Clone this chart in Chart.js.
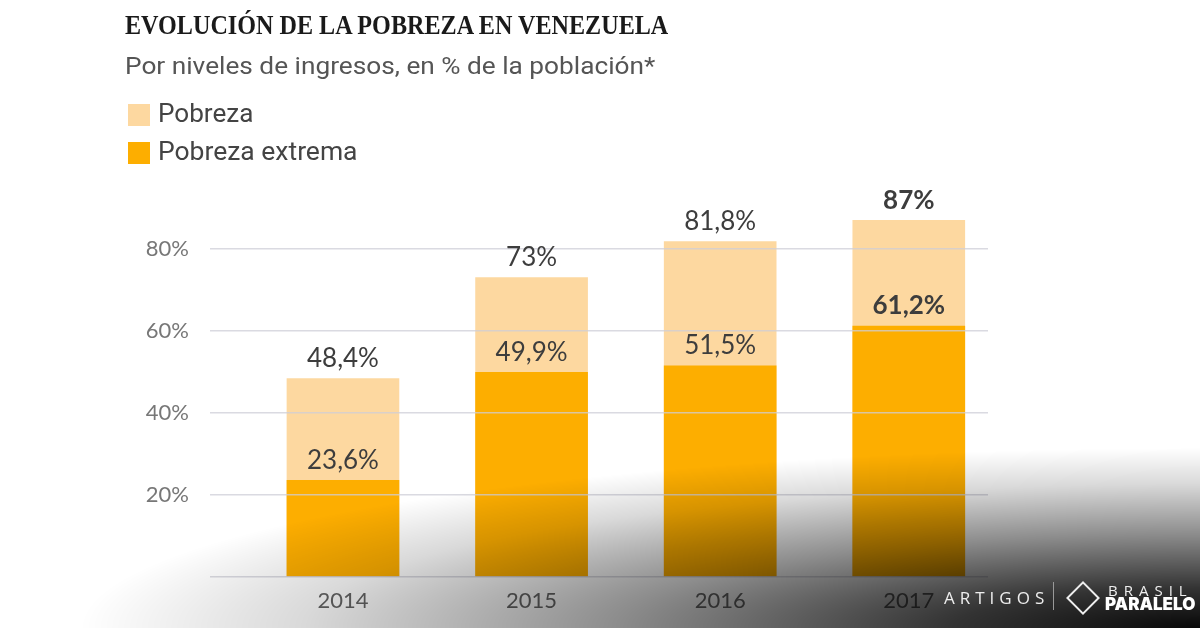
<!DOCTYPE html>
<html>
<head>
<meta charset="utf-8">
<script src="https://cdn.jsdelivr.net/npm/chart.js@4.4.1/dist/chart.umd.min.js"></script>
<style>
  body { margin: 0; background: #fff; }
  #wrap { position: relative; width: 1200px; height: 628px; overflow: hidden; background: #fff; }
  #chart { position: absolute; left: 0; top: 0; }
  .txt { position: absolute; white-space: nowrap; transform-origin: left top; }
  #title { left: 125px; top: 10px; font: bold 27px "Liberation Serif", serif; color: #1a1a1a; }
  #subtitle { left: 125px; top: 52px; font: 24px Roboto, sans-serif; color: #555; }
  .leg { position: absolute; left: 128px; width: 22px; height: 22px; }
  .legtxt { position: absolute; left: 158px; font: 25px Roboto, sans-serif; color: #444; }
  #shade { position: absolute; left: 0; top: 0; width: 1200px; height: 628px; pointer-events: none;
    background: radial-gradient(1120px 180px at 100% 100%, rgba(0,0,0,0.97) 0%, rgba(0,0,0,0.8) 22%, rgba(0,0,0,0.45) 52%, rgba(0,0,0,0.15) 80%, rgba(0,0,0,0) 100%); }
  #artigos { position: absolute; left: 944px; top: 586px; font: 17px "Open Sans", sans-serif; letter-spacing: 5px; color: #eee; }
  #sep { position: absolute; left: 1053px; top: 582px; width: 1px; height: 28px; background: #999; }
  #logo { position: absolute; left: 1071px; top: 586px; width: 20px; height: 20px; border: 2px solid #eee; transform: rotate(45deg); }
  #brasil { position: absolute; left: 1108px; top: 580px; font: 15px "Open Sans", sans-serif; letter-spacing: 6px; color: #eee; }
  #paralelo { position: absolute; left: 1105px; top: 594px; font: 900 17px Inter, sans-serif; color: #fff; }
</style>
</head>
<body>
<div id="wrap">
  <canvas id="chart" width="1200" height="628"></canvas>
  <div id="title" class="txt">EVOLUCIÓN DE LA POBREZA EN VENEZUELA</div>
  <div id="subtitle" class="txt">Por niveles de ingresos, en % de la población*</div>
  <div class="leg" style="top:104px;background:#fdd8a0"></div>
  <div id="leg1" class="legtxt txt" style="top:99px">Pobreza</div>
  <div class="leg" style="top:142px;background:#fdae00"></div>
  <div id="leg2" class="legtxt txt" style="top:137px">Pobreza extrema</div>
  <div id="shade"></div>
  <div id="artigos">ARTIGOS</div>
  <div id="sep"></div>
  <div id="logo"></div>
  <div id="brasil">BRASIL</div>
  <div id="paralelo">PARALELO</div>
</div>
<script>
"use strict";

// values
const years = ["2014", "2015", "2016", "2017"];
const pobreza = [48.4, 73, 81.8, 87];
const pobrezaExtrema = [23.6, 49.9, 51.5, 61.2];
const yTicks = [0, 20, 40, 60, 80];

// squeeze the header texts to the reference widths
function fitWidth(id, w) {
  const el = document.getElementById(id);
  el.style.transform = "scaleX(" + (w / el.offsetWidth) + ")";
}
fitWidth("title", 543);
fitWidth("subtitle", 530);
fitWidth("leg1", 95);
fitWidth("leg2", 199);

function fmt(v) {
  return String(v).replace(".", ",") + "%";
}

// value labels above each bar
const barLabels = {
  id: "barLabels",
  afterDraw(chart) {
    const ctx = chart.ctx;
    ctx.save();
    ctx.textAlign = "center";
    ctx.textBaseline = "middle";
    ctx.fillStyle = "#3d3d3d";
    chart.data.datasets.forEach((ds, di) => {
      chart.getDatasetMeta(di).data.forEach((bar, i) => {
        const last = i === years.length - 1;
        ctx.font = (last ? "bold " : "") + "26px Lato, sans-serif";
        ctx.fillText(fmt(ds.data[i].y), bar.x, bar.y - 20);
      });
    });
    ctx.restore();
  }
};

const ctx = document.getElementById("chart").getContext("2d");
new Chart(ctx, {
  type: "bar",
  data: {
    datasets: [
      {
        label: "Pobreza",
        data: pobreza.map((v, i) => ({ x: i, y: v })),
        backgroundColor: "#fdd8a0",
        order: 2,
      },
      {
        label: "Pobreza extrema",
        data: pobrezaExtrema.map((v, i) => ({ x: i, y: v })),
        backgroundColor: "#fdae00",
        order: 1,
      },
    ],
  },
  options: {
    responsive: false,
    animation: false,
    grouped: false,
    barThickness: 112,
    layout: { padding: { left: 120, right: 212, top: 208, bottom: 11 } },
    plugins: { legend: { display: false }, tooltip: { enabled: false } },
    scales: {
      x: {
        type: "linear",
        offset: false,
        min: -0.705,
        max: 3.42,
        grid: { display: false, drawTicks: false },
        border: { display: false },
        afterBuildTicks: (s) => { s.ticks = years.map((_, i) => ({ value: i })); },
        afterFit: (s) => { s.height = 40; },
        ticks: {
          padding: 11,
          color: "#666",
          font: { family: "Lato, sans-serif", size: 22 },
          callback: (v) => years[v] || "",
        },
      },
      y: {
        min: 0,
        max: 90,
        grid: { color: "rgba(205,205,215,0.75)", lineWidth: 1.5, drawTicks: false, z: 1 },
        border: { display: false },
        afterBuildTicks: (s) => { s.ticks = yTicks.map((v) => ({ value: v })); },
        afterFit: (s) => { s.width = 90; },
        ticks: {
          padding: 21,
          color: "#777",
          font: { family: "Lato, sans-serif", size: 22 },
          callback: (v) => (v === 0 ? "" : v + "%"),
        },
      },
    },
  },
  plugins: [barLabels],
});
</script>
</body>
</html>
